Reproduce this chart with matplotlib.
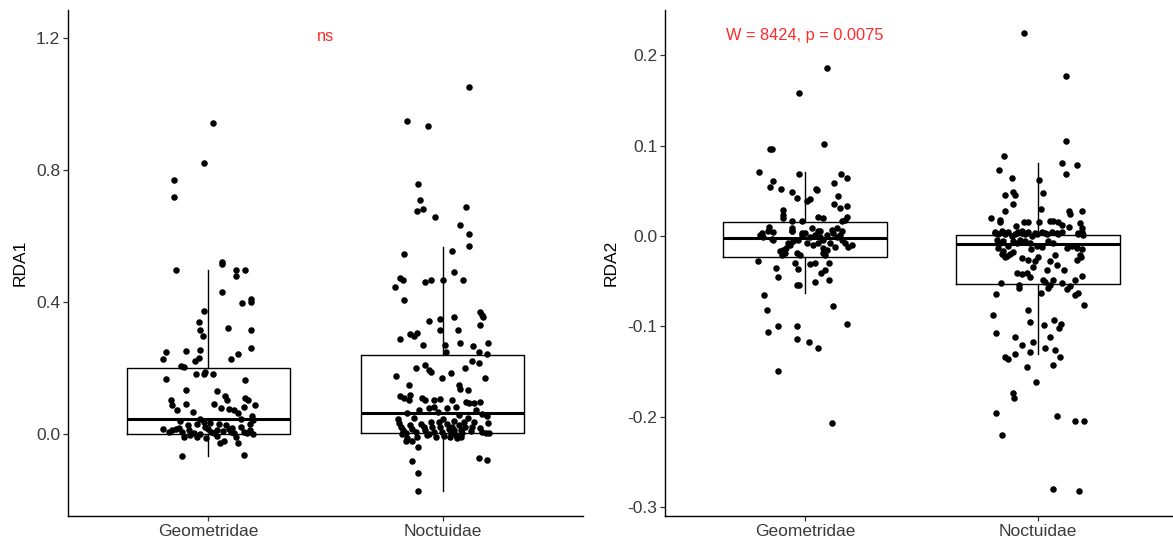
import matplotlib
matplotlib.use("Agg")
import matplotlib.pyplot as plt
import numpy as np
from matplotlib.ticker import FuncFormatter

plt.rcParams['font.family'] = ['Liberation Sans', 'DejaVu Sans']

categories = ["Geometridae", "Noctuidae"]

# ---- RDA1 panel: (jitter offset, value) ----
rda1_geo = [(0.018,0.943),(-0.021,0.822),(-0.147,0.771),(-0.147,0.718),(-0.14,0.498),(0.057,0.521),(0.057,0.515),(0.118,0.498),(0.157,0.498),(0.118,0.48),(0.057,0.432),(0.182,0.408),
    (0.144,0.396),(0.182,0.401),(-0.021,0.373),(-0.041,0.339),(-0.034,0.317),(-0.023,0.298),(0.084,0.321),(0.182,0.317),(0.182,0.261),(-0.181,0.248),(-0.195,0.227),(-0.095,0.251),(-0.034,0.255),(-0.041,0.232),(-0.056,0.222),(0.125,0.242),(0.097,0.227),(-0.118,0.206),(-0.104,0.204),(-0.054,0.181),(-0.021,0.183),(-0.013,0.189),(0.018,0.181),(-0.181,0.167),(0.158,0.163),(-0.094,0.134),(0.038,0.130),(0.071,0.115),(0.081,0.103),(-0.161,0.103),(-0.155,0.088),(-0.094,0.091),(0.024,0.092),(0.158,0.111),(0.17,0.103),(-0.135,0.073),(-0.067,0.068),(0.053,0.078),(0.087,0.075),(0.11,0.073),(0.127,0.063),(0.151,0.083),(0.198,0.087),(0.187,0.055),(0.191,0.042),
    (-0.194,0.017),(-0.155,0.012),(-0.137,0.017),(-0.125,0.02),(-0.112,0.007),(-0.106,-0.008),(-0.087,0.027),(-0.084,0.012),(-0.063,0.004),(-0.048,-0.008),(-0.038,0.0),(-0.051,0.032),(-0.034,0.047),(-0.02,0.037),(-0.016,0.022),(0.006,0.034),(0.009,0.007),(0.024,0.002),(0.037,0.012),(0.037,-0.005),(0.051,-0.028),(0.065,-0.02),(0.073,0.027),(0.087,0.017),(0.097,0.007),(0.108,0.002),(0.118,-0.008),(0.127,-0.026),(0.141,0.022),(0.151,0.007),(0.165,0.002),(0.176,0.012),(0.179,0.032),(-0.112,-0.066),(0.15,-0.063),
    (-0.17,0.005),(-0.08,-0.002),(0.0,0.015),(0.06,0.01),(0.1,0.02),(0.19,0.0),(-0.01,-0.012),(0.045,0.03),(-0.12,0.04),(0.14,0.045)]

rda1_noc = [(0.114,1.052),(-0.15,0.948),(-0.064,0.934),(-0.103,0.757),(-0.097,0.709),(-0.111,0.677),(-0.083,0.681),(0.101,0.687),(-0.031,0.659),(0.074,0.635),(0.114,0.607),(0.114,0.569),(0.041,0.556),(-0.164,0.545),(0.048,0.490),(-0.182,0.472),(-0.17,0.467),(-0.202,0.447),(-0.077,0.462),(-0.05,0.467),(0.001,0.467),(0.087,0.467),
    (-0.164,0.405),(-0.01,0.35),(-0.056,0.344),(0.05,0.356),(0.16,0.369),(0.17,0.36),(0.174,0.356),(0.16,0.331),(-0.01,0.317),(0.064,0.317),(-0.141,0.302),(-0.123,0.298),(-0.111,0.307),(-0.182,0.288),(-0.083,0.27),(0.009,0.271),(0.076,0.275),(0.132,0.266),(0.194,0.275),
    (0.013,0.248),(0.155,0.248),(0.188,0.242),(0.127,0.222),(0.155,0.217),(-0.073,0.209),(-0.115,0.199),(-0.059,0.194),(-0.05,0.189),(0.094,0.199),(0.036,0.186),(-0.197,0.176),(-0.004,0.171),(0.182,0.171),(-0.142,0.148),(0.07,0.148),(0.074,0.138),(0.108,0.133),
    (-0.182,0.115),(-0.164,0.11),(-0.144,0.103),(-0.14,0.118),(-0.087,0.11),(-0.073,0.103),(-0.037,0.103),(-0.009,0.105),(0.041,0.103),(0.101,0.098),(0.115,0.095),(0.134,0.093),(0.161,0.096),
    (0.021,0.078),(0.056,0.083),(-0.101,0.073),(-0.056,0.078),(-0.037,0.083),(0.145,0.073),(0.17,0.061),(-0.15,0.065),(-0.018,0.068),(0.07,0.058),(0.191,0.055),(0.195,0.034),
    (-0.187,0.034),(-0.179,0.022),(-0.17,0.012),(-0.158,0.002),(-0.151,-0.013),(-0.137,0.027),(-0.129,0.017),(-0.115,0.007),(-0.108,-0.008),(-0.094,0.032),(-0.08,0.022),(-0.073,0.012),(-0.065,-0.003),(-0.051,0.037),(-0.044,0.022),(-0.037,0.007),(-0.03,-0.008),(-0.016,0.037),(-0.009,0.022),(-0.001,0.007),(0.006,-0.005),(0.02,0.032),(0.027,0.017),(0.034,0.004),(0.041,0.022),(0.048,0.012),(0.056,-0.003),(0.07,0.027),(0.077,0.014),(0.084,0.002),(0.091,0.037),(0.098,0.022),(0.127,0.022),(0.134,0.037),(0.17,0.007),(0.184,0.002),(0.198,0.002),(-0.158,-0.02),(-0.129,-0.02),(0.063,-0.013),(0.077,-0.008),
    (-0.105,-0.038),(-0.129,-0.082),(0.155,-0.072),(0.189,-0.077),(-0.105,-0.119),(-0.105,-0.171),
    (-0.19,0.045),(-0.12,0.05),(0.0,0.045),(0.11,0.05),(-0.06,0.0),(0.03,-0.01),(0.12,0.01),(0.16,0.02),(-0.175,0.0),(0.05,0.04)]

# ---- RDA2 panel ----
rda2_geo = [(0.096,0.186),(-0.024,0.158),(0.083,0.102),(-0.15,0.096),(-0.143,0.096),(-0.196,0.071),(-0.024,0.068),(0.156,0.069),(0.182,0.064),(-0.136,0.061),(0.123,0.059),(-0.15,0.054),(-0.103,0.052),(-0.057,0.049),(0.047,0.052),(0.05,0.051),(-0.036,0.042),(0.007,0.039),(0.021,0.041),(0.142,0.044),(0.123,0.035),(0.15,0.031),(0.182,0.033),(-0.096,0.029),(-0.096,0.023),(-0.096,0.020),(0.057,0.021),(0.078,0.020),(-0.057,0.017),(-0.014,0.017),(0.172,0.018),(0.182,0.021),(0.158,0.016),(-0.155,0.0096),(-0.057,0.0085),(-0.186,0.003),(-0.136,0.004),
    (-0.057,0.005),(-0.014,0.003),(0.029,0.009),(0.064,0.005),(0.115,0.007),(0.136,0.009),(0.158,0.005),
    (-0.193,0.001),(-0.179,-0.001),(-0.143,-0.003),(-0.136,-0.004),(-0.158,0.005),(-0.107,-0.017),(-0.093,-0.0155),(-0.079,-0.0136),(-0.064,-0.01),(-0.072,-0.008),(-0.05,-0.006),(-0.1,-0.021),(-0.086,-0.019),(-0.036,-0.019),(-0.021,-0.021),
    (-0.014,0.001),(0.0,0.003),(0.021,-0.001),(0.043,0.001),(0.057,0.005),(0.064,-0.001),(0.079,-0.004),(0.093,0.001),(0.007,-0.008),(0.036,-0.01),(0.057,-0.008),(0.079,-0.0136),(0.093,-0.0155),(0.079,-0.019),(0.086,-0.021),
    (0.121,0.003),(0.136,-0.001),(0.15,0.001),(0.158,-0.004),(0.172,-0.008),(0.186,-0.012),(0.2,-0.01),(0.107,-0.008),(0.129,-0.012),(-0.055,0.005),(-0.029,-0.004),
    (-0.203,-0.028),(-0.122,-0.035),(-0.043,-0.030),(-0.029,-0.037),(0.021,-0.031),(0.043,-0.030),(0.103,-0.030),(-0.115,-0.046),(0.071,-0.041),(0.086,-0.038),(0.043,-0.051),(0.103,-0.049),(-0.036,-0.054),(-0.025,-0.054),(-0.175,-0.065),(-0.162,-0.082),(0.122,-0.078),(0.182,-0.097),(-0.158,-0.106),(-0.115,-0.100),(-0.036,-0.100),(-0.036,-0.114),(0.017,-0.117),(0.054,-0.124),(-0.115,-0.150),(0.116,-0.207)]

rda2_noc = [(-0.061,0.225),(0.119,0.177),(0.119,0.105),(-0.147,0.088),(0.104,0.081),(0.166,0.078),(-0.167,0.073),(0.119,0.069),(-0.114,0.064),(0.006,0.062),(-0.14,0.045),(-0.106,0.049),(-0.099,0.045),(0.019,0.047),(-0.106,0.035),(-0.14,0.028),(0.012,0.030),(0.131,0.028),(0.137,0.024),(0.189,0.028),(-0.201,0.020),(-0.162,0.018),(-0.162,0.015),(-0.094,0.011),(-0.061,0.015),(-0.042,0.015),(0.006,0.015),(0.052,0.017),(0.066,0.017),(0.087,0.015),(0.101,0.012),(0.131,0.0096),(0.18,0.014),(0.187,0.0085),
    (-0.185,0.003),(-0.142,0.003),(-0.091,0.003),(-0.07,0.003),(-0.048,0.003),(-0.013,0.003),(0.03,0.003),(0.08,0.003),(0.173,0.003),(0.194,0.001),
    (-0.185,0.004),(-0.17,0.002),(-0.156,0.005),(-0.142,0.002),(-0.127,0.004),(-0.113,0.0),(-0.099,0.002),(-0.085,0.004),(-0.07,0.005),(-0.056,0.002),(-0.042,0.004),(-0.027,0.0),(-0.006,0.002),(0.016,0.004),(0.037,0.002),(0.059,0.004),(0.087,0.002),(0.102,0.004),(0.173,0.002),(0.187,0.004),
    (-0.177,-0.004),(-0.163,-0.008),(-0.149,-0.006),(-0.127,-0.011),(-0.106,-0.006),(-0.091,-0.008),(-0.077,-0.004),(-0.056,-0.006),(-0.034,-0.008),(-0.006,-0.011),(0.016,-0.012),(0.044,-0.006),(0.066,-0.008),
    (-0.17,-0.013),(-0.149,-0.017),(-0.134,-0.022),(-0.12,-0.02),(-0.106,-0.018),(-0.142,-0.023),(-0.156,-0.02),
    (0.123,-0.013),(0.145,-0.011),(0.166,-0.013),(0.187,-0.015),(0.18,-0.021),(-0.031,-0.014),
    (-0.07,-0.025),(-0.042,-0.027),(-0.013,-0.028),(0.001,-0.023),(-0.02,-0.034),(0.052,-0.028),(0.073,-0.021),(0.08,-0.032),(0.166,-0.027),(0.185,-0.023),(0.037,-0.038),(0.112,-0.038),(-0.091,-0.041),(-0.07,-0.042),(-0.049,-0.041),(-0.034,-0.045),(0.189,-0.044),(0.023,-0.049),(0.03,-0.051),(0.066,-0.049),(-0.161,-0.052),(-0.084,-0.054),(-0.081,-0.058),(0.052,-0.054),(0.044,-0.058),(0.104,-0.052),(0.123,-0.059),(0.137,-0.055),(0.159,-0.049),(0.012,-0.063),(-0.18,-0.064),(0.159,-0.065),(0.171,-0.063),(0.197,-0.076),(-0.042,-0.082),(-0.193,-0.088),(-0.034,-0.095),(0.026,-0.099),(0.07,-0.093),(0.099,-0.097),(0.091,-0.102),(-0.18,-0.107),(-0.101,-0.112),(0.052,-0.112),(-0.021,-0.117),(-0.069,-0.121),(0.03,-0.124),(0.073,-0.126),(-0.101,-0.131),(-0.034,-0.129),(-0.142,-0.134),(-0.128,-0.136),(0.092,-0.134),(-0.049,-0.145),(0.064,-0.143),(-0.009,-0.162),(-0.109,-0.174),(-0.102,-0.179),(-0.182,-0.196),(0.079,-0.199),(0.159,-0.205),(0.197,-0.205),(-0.155,-0.220),(0.064,-0.280),(0.177,-0.282)]

# Box statistics: (whisker low, Q1, median, Q3, whisker high)
rda1_box = {"Geometridae": (-0.067, 0.0, 0.045, 0.200, 0.498),
            "Noctuidae": (-0.171, 0.004, 0.063, 0.239, 0.568)}
rda2_box = {"Geometridae": (-0.0635, -0.023, -0.0025, 0.0158, 0.0705),
            "Noctuidae": (-0.131, -0.053, -0.0092, 0.0015, 0.0805)}

rda1_label = "ns"
rda2_label = "W = 8424, p = 0.0075"

rda1_ticks = [0.0, 0.4, 0.8, 1.2]
rda2_ticks = [-0.3, -0.2, -0.1, 0.0, 0.1, 0.2]

W, H = 1173, 548
fig = plt.figure(figsize=(W / 100, H / 100), dpi=100)
ax1 = fig.add_axes([68 / W, (H - 516) / H, (583 - 68) / W, (516 - 10) / H])
ax2 = fig.add_axes([665 / W, (H - 516) / H, (1178 - 665) / W, (516 - 10) / H])

red = '#FF2A2A'

def draw(ax, groups, boxes, ticks, ylim, ylabel, label, label_xy):
    stats = []
    for name in categories:
        lo, q1, med, q3, hi = boxes[name]
        stats.append(dict(whislo=lo, q1=q1, med=med, q3=q3, whishi=hi, fliers=[], label=name))
    ax.bxp(stats, positions=[1, 2], widths=0.7, showfliers=False, showcaps=False,
           patch_artist=False,
           boxprops=dict(color='black', linewidth=1.0),
           whiskerprops=dict(color='black', linewidth=1.0),
           medianprops=dict(color='black', linewidth=2.2, solid_capstyle='butt'),
           zorder=2)
    for i, pts in enumerate(groups):
        arr = np.array(pts)
        ax.scatter(i + 1 + arr[:, 0], arr[:, 1], s=22, color='black', linewidths=0, zorder=3)
    ax.set_xlim(0.4, 2.6)
    ax.set_ylim(*ylim)
    ax.set_xticks([1, 2])
    ax.set_xticklabels(categories)
    ax.set_yticks(ticks)
    ax.yaxis.set_major_formatter(FuncFormatter(lambda v, p: f"{v:.1f}".replace('\u2212', '-') if abs(v) > 1e-9 else "0.0"))
    for s in ['top', 'right']:
        ax.spines[s].set_visible(False)
    for s in ['left', 'bottom']:
        ax.spines[s].set_linewidth(1.0)
        ax.spines[s].set_color('black')
    ax.tick_params(axis='both', length=3.5, width=0.9, color='#333333', labelcolor='#3A3A3A',
                   labelsize=12.5, pad=2)
    ax.set_ylabel(ylabel, fontsize=12.5, color='black', labelpad=6)
    ax.text(label_xy[0], label_xy[1], label, color=red, fontsize=11.8, ha='center', va='center')

draw(ax1, [rda1_geo, rda1_noc], rda1_box, rda1_ticks, (-0.248, 1.285), "RDA1", rda1_label, (1.5, 1.205))
draw(ax2, [rda2_geo, rda2_noc], rda2_box, rda2_ticks, (-0.31, 0.25), "RDA2", rda2_label, (1.0, 0.222))

fig.savefig("out.png", dpi=100)
